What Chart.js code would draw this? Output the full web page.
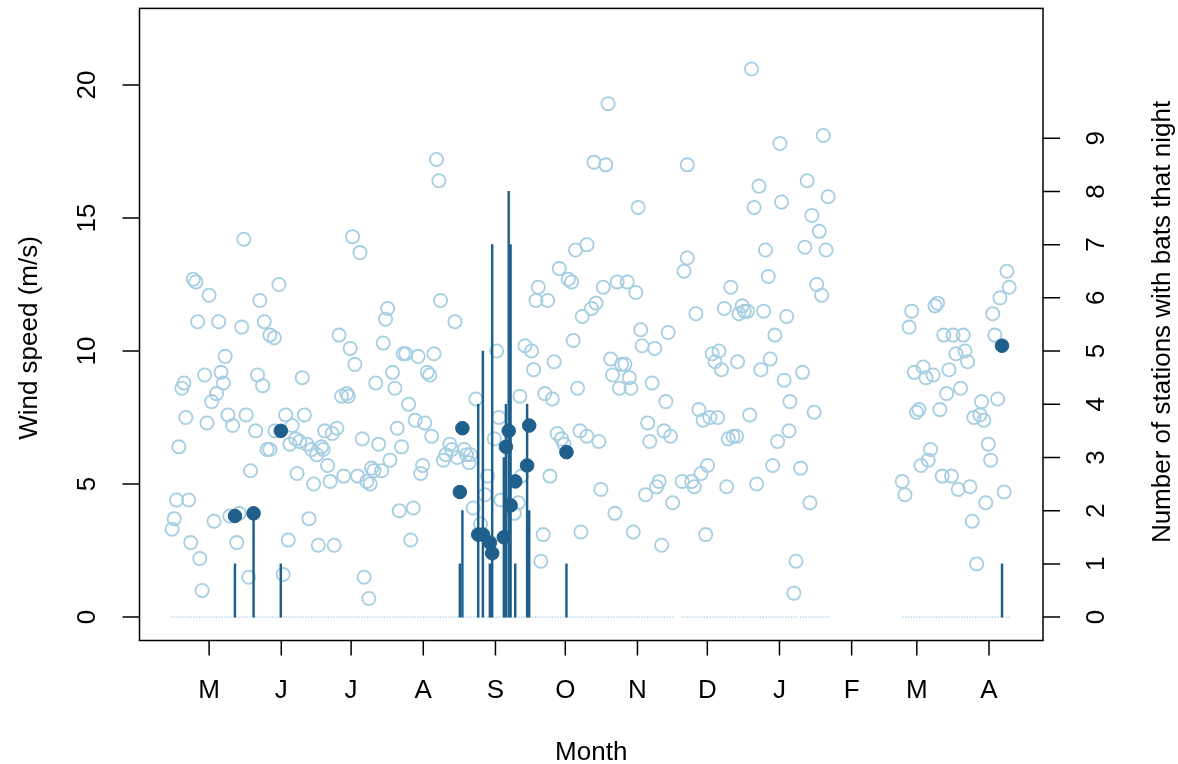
<!DOCTYPE html>
<html lang="en">
<head>
<meta charset="UTF-8">
<title>Wind speed and bat activity</title>
<script src="https://cdn.jsdelivr.net/npm/chart.js"></script>
<style>
  html, body { margin: 0; padding: 0; background: #fff; }
  #wrap { width: 1178px; height: 764px; }
</style>
</head>
<body>
<div id="wrap"><canvas id="windChart" width="1178" height="764"></canvas></div>
<script>
// x values are days counted from 1 May
const monthStartDay = [0, 31, 61, 92, 123, 153, 184, 214, 245, 276, 304, 335];
const monthLabels = ['M', 'J', 'J', 'A', 'S', 'O', 'N', 'D', 'J', 'F', 'M', 'A'];
const windTicks = [0, 5, 10, 15, 20];
const stationTicks = [0, 1, 2, 3, 4, 5, 6, 7, 8, 9];

// nightly wind speed (m/s)
const windDay = [
  -15.9, -15.0, -14.0, -13.0, -11.7, -10.8, -10.0, -8.8, -7.9, -6.8, -5.7, -4.9, -4.0, -3.0, -1.9, -0.9,
  0.0, 1.1, 2.1, 3.2, 4.1, 5.1, 6.1, 6.9, 8.1, 8.9, 10.1, 11.9, 12.9, 14.0, 14.9, 15.9, 17.0, 17.8,
  20.0, 20.8, 21.8, 23.0, 23.7, 24.9, 26.1, 26.1,
  28.0, 28.3, 30.0, 31.8, 32.9, 34.0, 34.7, 35.7, 37.2, 37.8, 38.9, 40.0, 40.9, 42.0, 42.9, 44.0, 44.9,
  46.2, 46.9, 48.3, 49.0, 49.7, 50.9, 52.0, 52.9, 53.7, 54.9, 55.8, 56.9, 57.8, 59.1, 59.8, 60.6, 61.6,
  62.6, 63.8, 64.8, 65.8, 66.6, 67.7, 68.6, 69.2, 69.8,
  70.8, 71.6, 72.8, 74.1, 74.8, 75.8, 76.7, 77.7, 78.8, 79.8, 80.8, 81.7, 82.7, 83.4, 84.5, 85.7, 86.6,
  87.7, 88.5, 89.8, 90.9, 91.7, 92.6, 93.7, 94.8, 95.6, 96.6, 97.7, 98.7, 99.4, 100.6, 101.7, 103.4,
  104.2, 105.6, 106.6, 109.6, 110.6, 111.7, 112.3, 113.4, 114.6, 116.6,
  118.5, 119.6, 122.5, 123.5, 124.5, 125.3, 131.1, 132.8, 133.5, 134.2, 135.7, 138.5, 139.4, 140.4,
  141.4, 142.5, 143.5, 144.2, 145.4, 146.4, 147.4, 148.2, 149.5, 150.4, 151.4, 152.5, 154.3, 155.7,
  156.4, 157.4, 158.3, 159.3, 159.7, 160.3, 162.3, 162.3,
  164.3, 165.3, 166.2, 167.4, 168.3, 169.3, 170.4, 171.4, 172.5, 173.3, 174.3, 175.3, 176.2, 177.2,
  178.6, 179.6, 180.5, 181.2, 182.2, 183.3, 184.3, 185.4, 186.0, 187.5, 188.4, 189.3, 190.3, 191.4,
  192.2, 193.3, 194.4, 195.4, 196.2, 197.2, 198.2, 199.1, 203.2, 204.0, 205.4, 205.4,
  207.3, 208.4, 209.1, 210.4, 211.3, 212.2, 213.3, 214.1, 215.1, 216.1, 217.3, 218.4, 219.0, 220.1,
  221.3, 222.3, 223.0, 224.1, 225.1, 226.6, 227.0, 227.6, 229.0, 229.9, 231.3, 232.2, 233.0, 234.1,
  235.2, 236.2, 237.0, 238.2, 239.0, 240.2, 241.0, 242.1, 243.0, 244.2, 245.2, 245.9, 247.0, 248.1,
  249.1, 249.5, 251.2, 252.1,
  254.1, 254.9, 255.9, 256.9, 258.1, 258.9, 259.9, 261.0, 262.1, 263.1, 263.8, 265.0, 265.9,
  297.7, 298.9, 300.7, 301.8, 302.9, 303.9, 304.9, 305.8, 306.7, 307.9, 308.9, 309.9, 311.0, 311.8,
  312.9, 313.9, 314.9, 315.6, 316.8, 317.8, 318.9, 319.6, 320.8, 321.8, 322.8, 323.9, 324.7, 325.8,
  326.8, 327.8, 328.5, 329.7, 331.1, 331.8, 332.8, 333.6, 334.7, 335.7, 336.6, 337.5, 338.7, 339.7,
  341.5, 342.7, 343.7
];
const windSpeed = [
  3.3, 3.7, 4.4, 6.4, 8.6, 8.8, 7.5, 4.4, 2.8, 12.7, 12.6, 11.1, 2.2, 1.0, 9.1, 7.3,
  12.1, 8.1, 3.6, 8.4, 11.1, 9.2, 8.8, 9.8, 7.6, 3.8, 7.2, 2.8, 3.9, 10.9, 14.2, 7.6, 1.5, 5.5,
  7.0, 9.1, 11.9, 8.7, 11.1, 6.3, 10.6, 6.3,
  10.5, 7.0, 12.5, 1.6, 7.6, 2.9, 6.5, 7.2, 6.7, 5.4, 6.6, 9.0, 7.6, 6.5, 3.7, 6.3, 5.0,
  6.1, 2.7, 6.4, 6.3, 7.0, 5.7, 5.1, 6.9, 2.7, 7.1, 10.6, 8.3, 5.3, 8.4, 8.3, 10.1, 14.3,
  9.5, 5.3, 13.7, 6.7, 1.5, 5.1, 0.7, 5.0, 5.6,
  5.5, 8.8, 6.5, 5.5, 10.3, 11.2, 11.6, 5.9, 9.2, 8.6, 7.1, 4.0, 6.4, 9.9, 9.9, 8.0, 2.9,
  4.1, 7.4, 9.8, 5.4, 5.7, 7.3, 9.2, 9.1, 6.8, 9.9, 17.2, 16.4, 11.9, 5.9, 6.1, 6.5,
  6.3, 11.1, 6.0, 6.3, 6.1, 5.8, 6.1, 4.1, 8.2, 3.5,
  4.6, 5.3, 6.7, 10.0, 7.5, 4.4, 3.9, 4.3, 8.3, 5.3, 10.2, 10.0, 9.3, 11.9,
  12.4, 2.1, 3.1, 8.4, 11.9, 5.3, 8.2, 9.6, 6.9, 13.1, 6.7, 6.5, 12.7, 12.6,
  10.4, 13.8, 8.6, 7.0, 3.2, 11.3, 14.0, 6.8,
  11.6, 17.1, 11.8, 6.6, 4.8, 12.4, 17.0, 19.3, 9.7, 9.1, 3.9, 12.6, 8.6, 9.5,
  9.5, 12.6, 9.0, 8.6, 3.2, 12.2, 15.4, 10.8, 10.2, 4.6, 7.3, 6.6, 8.8, 10.1,
  4.9, 5.1, 2.7, 7.0, 8.1, 10.7, 6.8, 4.3, 5.1, 13.0, 13.5, 17.0,
  5.1, 4.9, 11.4, 7.8, 5.4, 7.4, 3.1, 5.7, 7.5, 9.9, 9.6, 7.5, 10.0, 9.3,
  11.6, 4.9, 6.7, 12.4, 6.8, 6.8, 9.6, 11.4, 11.7, 11.5, 11.5, 7.6, 20.6, 15.4,
  5.0, 16.2, 9.3, 11.5, 13.8, 12.8, 9.7, 5.7, 10.6, 6.6, 17.8, 15.6, 8.9, 11.3,
  7.0, 8.1, 0.9, 2.1,
  5.6, 9.2, 13.9, 16.4, 4.3, 15.1, 7.7, 12.5, 14.5, 12.1, 18.1, 13.8, 15.8,
  5.1, 4.6, 10.9, 11.5, 9.2, 7.7, 7.8, 5.7, 9.4, 9.0, 5.9, 6.3, 9.1, 11.7,
  11.8, 7.8, 5.3, 10.6, 8.4, 9.3, 5.3, 10.6, 9.9, 4.8, 8.6, 10.6, 10.0, 9.6,
  4.9, 3.6, 7.5, 2.0, 7.6, 8.1, 7.4, 4.3, 6.5, 5.9, 11.4, 10.6, 8.2, 12.0,
  4.7, 13.0, 12.4
];

// nights with bats: wind speed and number of stations recording bats
const batDay = [11.1, 19.1, 30.8, 107.7, 108.8, 115.6, 117.6, 120.6, 121.6, 126.6, 127.5, 128.7, 129.5, 131.5, 136.6, 137.5, 153.5, 340.6];
const batWind = [3.8, 3.9, 7.0, 4.7, 7.1, 3.1, 3.1, 2.8, 2.4, 3.0, 6.4, 7.0, 4.2, 5.1, 5.7, 7.2, 6.2, 10.2];
const batStations = [1, 2, 1, 1, 2, 4, 5, 1, 7, 3, 4, 8, 7, 1, 4, 2, 1, 1];

// stretches of nights with recordings
const recordStart = [-16.4, 202.9, 253.8, 297.7];
const recordEnd = [199.9, 252.6, 266.4, 344.0];

const lightBlue = '#a6cee3';
const darkBlue = '#1f5f8b';

const baseline = [];
recordStart.forEach((s, i) => {
  baseline.push({ x: s, y: 0 }, { x: recordEnd[i], y: 0 }, { x: recordEnd[i] + 0.5, y: null });
});

const rAxes = {
  id: 'rAxes',
  afterDraw(chart) {
    const { ctx, chartArea: a, scales } = chart;
    ctx.save();
    ctx.strokeStyle = '#000';
    ctx.lineWidth = 1.5;
    ctx.strokeRect(a.left, a.top, a.right - a.left, a.bottom - a.top);

    ctx.beginPath();
    monthStartDay.forEach(d => {
      const x = scales.x.getPixelForValue(d);
      ctx.moveTo(x, a.bottom); ctx.lineTo(x, a.bottom + 15);
    });
    windTicks.forEach(v => {
      const y = scales.y.getPixelForValue(v);
      ctx.moveTo(a.left, y); ctx.lineTo(a.left - 17, y);
    });
    stationTicks.forEach(v => {
      const y = scales.yStations.getPixelForValue(v);
      ctx.moveTo(a.right, y); ctx.lineTo(a.right + 17, y);
    });
    ctx.stroke();

    ctx.fillStyle = '#000';
    ctx.font = '26px "Liberation Sans", Arial, sans-serif';
    ctx.textAlign = 'center';
    ctx.textBaseline = 'alphabetic';
    monthStartDay.forEach((d, i) => {
      ctx.fillText(monthLabels[i], scales.x.getPixelForValue(d), a.bottom + 57);
    });
    ctx.fillText('Month', (a.left + a.right) / 2, 760);

    const vText = (t, x, y) => {
      ctx.save();
      ctx.translate(x, y);
      ctx.rotate(-Math.PI / 2);
      ctx.fillText(t, 0, 0);
      ctx.restore();
    };
    windTicks.forEach(v => vText(String(v), 95, scales.y.getPixelForValue(v)));
    stationTicks.forEach(v => vText(String(v), 1104, scales.yStations.getPixelForValue(v)));
    vText('Wind speed (m/s)', 37, 338);
    vText('Number of stations with bats that night', 1170, 322);
    ctx.restore();
  }
};

const ctx = document.getElementById('windChart').getContext('2d');
new Chart(ctx, {
  type: 'scatter',
  data: {
    datasets: [
      {
        label: 'Bat nights',
        data: batDay.map((d, i) => ({ x: d, y: batWind[i] })),
        pointRadius: 6.8,
        pointBorderWidth: 1,
        pointBackgroundColor: darkBlue,
        pointBorderColor: darkBlue,
        order: 0
      },
      {
        type: 'bar',
        label: 'Stations',
        data: batDay.map((d, i) => ({ x: d, y: batStations[i] })),
        yAxisID: 'yStations',
        backgroundColor: darkBlue,
        barThickness: 1.8,
        order: 1
      },
      {
        label: 'Wind speed',
        data: windDay.map((d, i) => ({ x: d, y: windSpeed[i] })),
        pointRadius: 6.6,
        pointBorderWidth: 1.8,
        pointBorderColor: lightBlue,
        pointBackgroundColor: 'rgba(0,0,0,0)',
        order: 2
      },
      {
        type: 'line',
        label: 'Recorded',
        data: baseline,
        borderColor: lightBlue,
        borderWidth: 1.4,
        borderDash: [1.4, 1.4],
        pointRadius: 0,
        spanGaps: false,
        order: 3
      }
    ]
  },
  options: {
    responsive: false,
    animation: false,
    events: [],
    layout: { padding: { left: 139.5, right: 135, top: 7.5, bottom: 123.5 } },
    plugins: { legend: { display: false }, tooltip: { enabled: false } },
    scales: {
      x: { type: 'linear', offset: false, min: -29.9, max: 358.2, display: false },
      y: { type: 'linear', min: -0.88, max: 22.88, display: false },
      yStations: { type: 'linear', position: 'right', min: -0.44, max: 11.44, display: false }
    }
  },
  plugins: [rAxes]
});
</script>
</body>
</html>
